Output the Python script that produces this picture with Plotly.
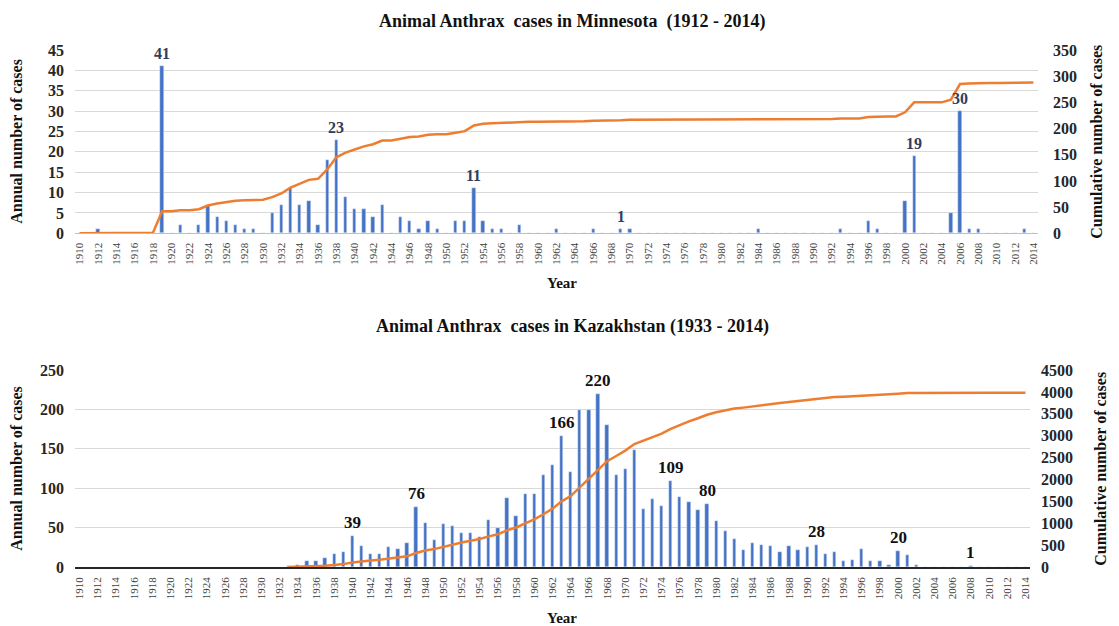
import plotly.graph_objects as go
from plotly.subplots import make_subplots
import numpy as np

# ---------------- data ----------------
years_all = list(range(1910, 2015))

# Minnesota annual cases, 1910..2014
mn_cases = [
    0, 0, 1, 0, 0, 0, 0, 0, 0, 41,      # 1910-1919
    0, 2, 0, 2, 7, 4, 3, 2, 1, 1,       # 1920-1929
    0, 5, 7, 11, 7, 8, 2, 18, 23, 9,    # 1930-1939
    6, 6, 4, 7, 0, 4, 3, 1, 3, 1,       # 1940-1949
    0, 3, 3, 11, 3, 1, 1, 0, 2, 0,      # 1950-1959
    0, 0, 1, 0, 0, 0, 1, 0, 0, 1,       # 1960-1969
    1, 0, 0, 0, 0, 0, 0, 0, 0, 0,       # 1970-1979
    0, 0, 0, 0, 1, 0, 0, 0, 0, 0,       # 1980-1989
    0, 0, 0, 1, 0, 0, 3, 1, 0, 0,       # 1990-1999
    8, 19, 0, 0, 0, 5, 30, 1, 1, 0,     # 2000-2009
    0, 0, 0, 1, 0,                      # 2010-2014
]

# Kazakhstan annual cases, 1933..2014
kz_years = list(range(1933, 2015))
kz_cases = [
    1, 3, 8, 7, 11, 17, 19,                     # 1933-1939
    39, 26, 17, 17, 25, 23, 30, 76, 56, 34,     # 1940-1949
    54, 52, 43, 43, 38, 60, 50, 88, 65, 93,     # 1950-1959
    93, 117, 129, 166, 120, 199, 199, 220, 180, 117,  # 1960-1969
    124, 149, 74, 86, 78, 109, 89, 83, 72, 80,  # 1970-1979
    58, 46, 36, 22, 30, 28, 27, 19, 27, 22,     # 1980-1989
    25, 28, 16, 19, 8, 9, 23, 8, 7, 3,          # 1990-1999
    20, 15, 2, 0, 0, 0, 0, 0, 1, 0,             # 2000-2009
    0, 0, 0, 0, 0,                              # 2010-2014
]

mn_cum = np.cumsum(mn_cases)
kz_cum = np.cumsum(kz_cases)

mn_labels = {1919: 41, 1938: 23, 1953: 11, 1969: 1, 2001: 19, 2006: 30}
kz_labels = {1940: 39, 1947: 76, 1963: 166, 1967: 220, 1975: 109,
             1979: 80, 1991: 28, 2000: 20, 2008: 1}

tick_years = list(range(1910, 2015, 2))

# ---------------- style ----------------
FONT = "Liberation Serif, Times New Roman, serif"
BAR = "#4472C4"
LINE = "#ED7D31"
GRID = "#d9d9d9"

fig = make_subplots(rows=2, cols=1, specs=[[{"secondary_y": True}], [{"secondary_y": True}]])

fig.add_trace(go.Bar(x=years_all, y=mn_cases, marker_color=BAR, width=0.36,
                     showlegend=False), row=1, col=1, secondary_y=False)
fig.add_trace(go.Scatter(x=years_all, y=mn_cum, mode="lines",
                         line=dict(color=LINE, width=2.5), showlegend=False),
              row=1, col=1, secondary_y=True)

fig.add_trace(go.Bar(x=kz_years, y=kz_cases, marker_color=BAR, width=0.36,
                     showlegend=False), row=2, col=1, secondary_y=False)
fig.add_trace(go.Scatter(x=kz_years, y=kz_cum, mode="lines",
                         line=dict(color=LINE, width=2.5), showlegend=False),
              row=2, col=1, secondary_y=True)

xcommon = dict(range=[1909.5, 2014.5], tickmode="array", tickvals=tick_years,
               ticktext=[str(y) for y in tick_years], tickangle=-90,
               tickfont=dict(family=FONT, size=11, color="#404040"),
               showgrid=False, zeroline=False, ticks="", ticklabelstandoff=4)

tickfont_y = dict(family=FONT, size=16, color="#262626", weight="bold")

# the page body adds an 8px offset, so the figure is 8px smaller and shifted
fig.update_layout(
    width=1111, height=618,
    margin=dict(l=67, r=81, t=42, b=59),
    paper_bgcolor="white", plot_bgcolor="white",
    bargap=0,
    xaxis=dict(domain=[0, 1], anchor="y", showline=True, linecolor="#bfbfbf",
               linewidth=1, **xcommon),
    xaxis2=dict(domain=[0, 0.9917], anchor="y3", showline=True, linecolor="#262626",
                linewidth=1.5, **xcommon),
    yaxis=dict(domain=[0.6455, 1], range=[0, 45], dtick=5, gridcolor=GRID,
               zeroline=False, tickfont=tickfont_y, ticklabelstandoff=10),
    yaxis2=dict(range=[0, 350], dtick=50, showgrid=False, zeroline=False,
                tickfont=tickfont_y, ticklabelstandoff=14),
    yaxis3=dict(domain=[0, 0.381], range=[0, 250], dtick=50, gridcolor=GRID,
                zeroline=False, tickfont=tickfont_y, ticklabelstandoff=10),
    yaxis4=dict(range=[0, 4500], dtick=500, showgrid=False, zeroline=False,
                tickfont=tickfont_y, ticklabelstandoff=10),
)

ann = []
def txt(text, x, y, size=15, angle=0, color="#111111", xref="paper", yref="paper",
        xanchor="center", yanchor="middle", yshift=0):
    ann.append(dict(text=f"<b>{text}</b>", x=x, y=y, xref=xref, yref=yref,
                    showarrow=False, textangle=angle, xanchor=xanchor,
                    yanchor=yanchor, yshift=yshift,
                    font=dict(family=FONT, size=size, color=color)))

# titles
txt("Animal Anthrax  cases in Minnesota  (1912 - 2014)", 0.5167, 1.0795, size=18,
    yanchor="top")
txt("Animal Anthrax  cases in Kazakhstan (1933 - 2014)", 0.5167, 0.466, size=18)
txt("Year", 0.5062, 0.549, size=15)
txt("Year", 0.5062, -0.0986, size=15)
txt("Annual number of cases", -0.0602, 0.8227, angle=-90, size=16)
txt("Annual number of cases", -0.0602, 0.19, angle=-90, size=16)
txt("Cumulative number of cases", 1.0613, 0.8227, angle=-90, size=16)
txt("Cumulative number of cases", 1.0654, 0.19, angle=-90, size=16)

for yr, v in mn_labels.items():
    txt(str(v), yr, v, size=16, color="#2f3e5c", xref="x", yref="y",
        yanchor="bottom", yshift=2)
for yr, v in kz_labels.items():
    txt(str(v), yr, v, size=17, color="#111111", xref="x2", yref="y3",
        yanchor="bottom", yshift=2)

fig.update_layout(annotations=ann)
fig.write_html("out.html")
